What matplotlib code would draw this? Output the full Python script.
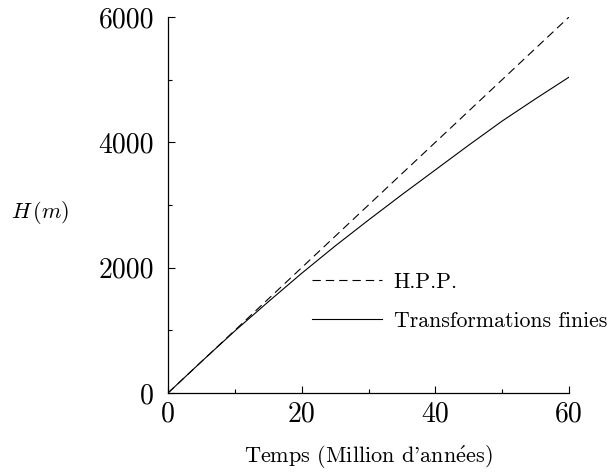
import matplotlib
matplotlib.use("Agg")
import matplotlib.pyplot as plt
from matplotlib.ticker import FixedLocator

plt.rcParams['font.family'] = 'serif'
plt.rcParams['font.serif'] = ['cmr10']
plt.rcParams['mathtext.fontset'] = 'cm'
plt.rcParams['axes.formatter.use_mathtext'] = True

# Data
t_hpp = [0, 60]
h_hpp = [0, 6000]
t_fin = [0, 5, 10, 15, 20, 25, 30, 35, 40, 45, 50, 55, 60]
h_fin = [0, 500, 990, 1455, 1910, 2345, 2760, 3165, 3560, 3955, 4340, 4695, 5040]

xticks = [0, 20, 40, 60]
xtick_labels = ['0', '20', '40', '60']
xminor = [10, 30, 50]
yticks = [0, 2000, 4000, 6000]
ytick_labels = ['0', '2000', '4000', '6000']
yminor = [1000, 3000, 5000]

fig = plt.figure(figsize=(6.07, 4.74), dpi=100)
ax = fig.add_axes([168/607, 1-393/474, 401/607, 376/474])

l1, = ax.plot(t_hpp, h_hpp, color='black', lw=0.8, label='H.P.P.')
l1.set_dashes([7.5, 4.5])
ax.plot(t_fin, h_fin, color='black', lw=0.8, label='Transformations finies')

ax.set_xlim(0, 60)
ax.set_ylim(0, 6000)
for s in ['top', 'right']:
    ax.spines[s].set_visible(False)
for s in ['left', 'bottom']:
    ax.spines[s].set_linewidth(0.9)

ax.set_xticks(xticks)
ax.set_xticklabels(xtick_labels)
ax.set_yticks(yticks)
ax.set_yticklabels(ytick_labels)
ax.xaxis.set_minor_locator(FixedLocator(xminor))
ax.yaxis.set_minor_locator(FixedLocator(yminor))
ax.tick_params(which='major', direction='in', length=5, width=0.8, labelsize=20, pad=6)
ax.tick_params(which='minor', direction='in', length=3, width=0.8)
ax.tick_params(axis='y', which='major', pad=10)

ax.set_xlabel(r"Temps (Million d'ann$\mathrm{\acute{e}}$es)", fontsize=16, labelpad=12)
ax.set_ylabel(r'$H\,(m)$', fontsize=16, rotation=0, va='center', ha='center')
ax.yaxis.set_label_coords(-0.32, 0.479)

leg = ax.legend(loc='center left', bbox_to_anchor=(0.31, 0.243), frameon=False,
                fontsize=15.7, handlelength=3.2, handletextpad=0.55, labelspacing=0.9)

fig.savefig('out.png', dpi=100)
